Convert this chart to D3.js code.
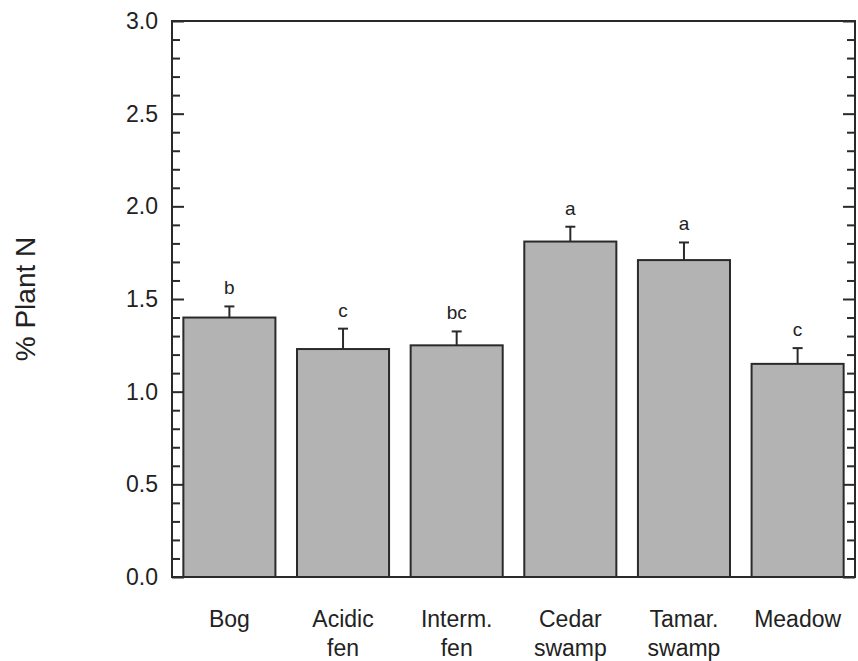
<!DOCTYPE html>
<html>
<head>
<meta charset="utf-8">
<script src="https://cdn.jsdelivr.net/npm/d3@7"></script>
<style>
  html, body { margin: 0; padding: 0; background: #fff; }
  svg { display: block; font-family: "Liberation Sans", Arial, Helvetica, sans-serif; }
</style>
</head>
<body>
<svg id="chart" width="858" height="661"></svg>
<script>
// ---- data ----
const categories = [["Bog"], ["Acidic", "fen"], ["Interm.", "fen"], ["Cedar", "swamp"], ["Tamar.", "swamp"], ["Meadow"]];
const means = [1.40, 1.23, 1.25, 1.81, 1.71, 1.15];
const errors = [0.06, 0.11, 0.075, 0.08, 0.095, 0.085];
const letters = ["b", "c", "bc", "a", "a", "c"];
const yTicks = [0.0, 0.5, 1.0, 1.5, 2.0, 2.5, 3.0];
const yLabel = "% Plant N";

// ---- layout ----
const svg = d3.select("#chart");
const pLeft = 172, pRight = 855, pTop = 21, pBottom = 577;
const ink = "#222";

const ids = categories.map((c, i) => i);
const x = d3.scaleBand().domain(ids).range([pLeft, pRight]).paddingInner(0.19).paddingOuter(0.1);
const y = d3.scaleLinear().domain([0, 3]).range([pBottom, pTop]);

// bars
svg.append("g").selectAll("rect").data(ids).join("rect")
  .attr("x", i => x(i))
  .attr("y", i => y(means[i]))
  .attr("width", x.bandwidth())
  .attr("height", i => y(0) - y(means[i]))
  .attr("fill", "#b3b3b3")
  .attr("stroke", "#2a2a2a")
  .attr("stroke-width", 2);

// error bars (upper only)
const eb = svg.append("g").attr("stroke", "#2a2a2a").attr("stroke-width", 2);
ids.forEach(i => {
  const cx = x(i) + x.bandwidth() / 2;
  eb.append("line").attr("x1", cx).attr("x2", cx).attr("y1", y(means[i])).attr("y2", y(means[i] + errors[i]));
  eb.append("line").attr("x1", cx - 5).attr("x2", cx + 5).attr("y1", y(means[i] + errors[i])).attr("y2", y(means[i] + errors[i]));
});

// significance letters
svg.append("g").selectAll("text").data(ids).join("text")
  .attr("x", i => x(i) + x.bandwidth() / 2)
  .attr("y", i => y(means[i] + errors[i]) - 12)
  .attr("text-anchor", "middle")
  .attr("font-size", 19)
  .attr("fill", ink)
  .text(i => letters[i]);

// frame
svg.append("rect").attr("x", pLeft).attr("y", pTop).attr("width", pRight - pLeft).attr("height", pBottom - pTop)
  .attr("fill", "none").attr("stroke", "#2a2a2a").attr("stroke-width", 2);

// y axes (left and right, inward ticks)
const minor = d3.range(0, 31).map(v => v / 10).filter(v => Math.round(v * 10) % 5 !== 0);
const leftAxis = d3.axisLeft(y).tickValues(yTicks).tickSize(-12).tickPadding(14).tickFormat(d3.format(".1f"));
const gL = svg.append("g").attr("transform", `translate(${pLeft},0)`).call(leftAxis);
gL.select(".domain").remove();
gL.selectAll("line").attr("stroke", "#2a2a2a").attr("stroke-width", 2);
gL.selectAll("text").attr("font-size", 23).attr("fill", ink).attr("font-family", "Liberation Sans, Arial, sans-serif");

const gLm = svg.append("g").attr("transform", `translate(${pLeft},0)`)
  .call(d3.axisLeft(y).tickValues(minor).tickSize(-8).tickFormat(""));
gLm.select(".domain").remove();
gLm.selectAll("line").attr("stroke", "#2a2a2a").attr("stroke-width", 2);

const gR = svg.append("g").attr("transform", `translate(${pRight},0)`)
  .call(d3.axisRight(y).tickValues(yTicks).tickSize(-12).tickFormat(""));
gR.select(".domain").remove();
gR.selectAll("line").attr("stroke", "#2a2a2a").attr("stroke-width", 2);
const gRm = svg.append("g").attr("transform", `translate(${pRight},0)`)
  .call(d3.axisRight(y).tickValues(minor).tickSize(-8).tickFormat(""));
gRm.select(".domain").remove();
gRm.selectAll("line").attr("stroke", "#2a2a2a").attr("stroke-width", 2);

// x axis labels
const gX = svg.append("g").attr("transform", `translate(0,${pBottom})`)
  .call(d3.axisBottom(x).tickSize(0).tickFormat(""));
gX.select(".domain").remove();
gX.selectAll(".tick").each(function(i) {
  const t = d3.select(this).append("text")
    .attr("text-anchor", "middle")
    .attr("font-size", 23)
    .attr("fill", ink)
    .attr("y", 50);
  categories[i].forEach((line, k) => {
    t.append("tspan").attr("x", 0).attr("y", 50 + k * 29).text(line);
  });
});

// y label
svg.append("text")
  .attr("transform", `translate(35,${(pTop + pBottom) / 2}) rotate(-90)`)
  .attr("text-anchor", "middle")
  .attr("font-size", 28)
  .attr("fill", ink)
  .text(yLabel);
</script>
</body>
</html>
